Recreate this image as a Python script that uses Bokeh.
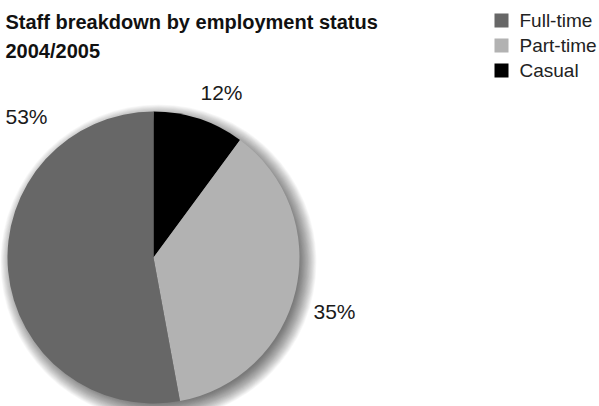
import numpy as np
from bokeh.plotting import figure
from bokeh.models import Range1d, ColumnDataSource
from bokeh.core.properties import value
from bokeh.embed import file_html
from bokeh.resources import INLINE

categories = ["Casual", "Part-time", "Full-time"]
slice_values = [10.1, 37.0, 52.9]
# printed labels
label_texts = ["12%", "35%", "53%"]
colors = ["#000000", "#b2b2b2", "#676767"]
legend_order = ["Full-time", "Part-time", "Casual"]
title_lines = ["Staff breakdown by employment status", "2004/2005"]

W, H = 599, 406
p = figure(width=W, height=H, output_backend="svg", toolbar_location=None,
           x_range=Range1d(0, W), y_range=Range1d(H, 0), min_border=0,
           border_fill_color="white", background_fill_color="white")
p.axis.visible = False
p.grid.visible = False
p.outline_line_color = None

cx, cy, R = 153, 257, 146

# soft shadow, offset to lower right
for i in range(24):
    p.circle(x=[cx + 5], y=[cy + 5], radius=R + 12 - i * 0.75, fill_color="black",
             fill_alpha=0.028, line_color=None)

frac = np.array(slice_values, dtype=float) / sum(slice_values)
ends = np.cumsum(frac)
starts = ends - frac
# clockwise from 12 o'clock (angles in screen convention)
start_ang = np.pi / 2 - starts * 2 * np.pi
end_ang = np.pi / 2 - ends * 2 * np.pi
src = ColumnDataSource(dict(start=start_ang, end=end_ang, color=colors))
p.wedge(x=cx, y=cy, radius=R, start_angle="start", end_angle="end",
        direction="clock", fill_color="color", line_color=None, source=src)

label_pos = {"Casual": (200, 92), "Full-time": (5, 116), "Part-time": (313, 311)}
for c, t in zip(categories, label_texts):
    x, y = label_pos[c]
    p.text(x=[x], y=[y], text=[t], text_font=value("Liberation Sans"),
           text_font_size="21px", text_color="#1a1a1a", text_baseline="middle")

for i, t in enumerate(title_lines):
    p.text(x=[5], y=[21 + 29 * i], text=[t], text_font=value("Liberation Sans"),
           text_font_size="20px", text_font_style="bold", text_color="#111111",
           text_baseline="middle")

for i, c in enumerate(legend_order):
    y = 20 + 25 * i
    col = colors[categories.index(c)]
    p.rect(x=[501], y=[y], width=14, height=14, fill_color=col, line_color=None)
    p.text(x=[519], y=[y], text=[c], text_font=value("Liberation Sans"),
           text_font_size="19px", text_color="#222222", text_baseline="middle")

open("out.html", "w").write(file_html(p, INLINE))
